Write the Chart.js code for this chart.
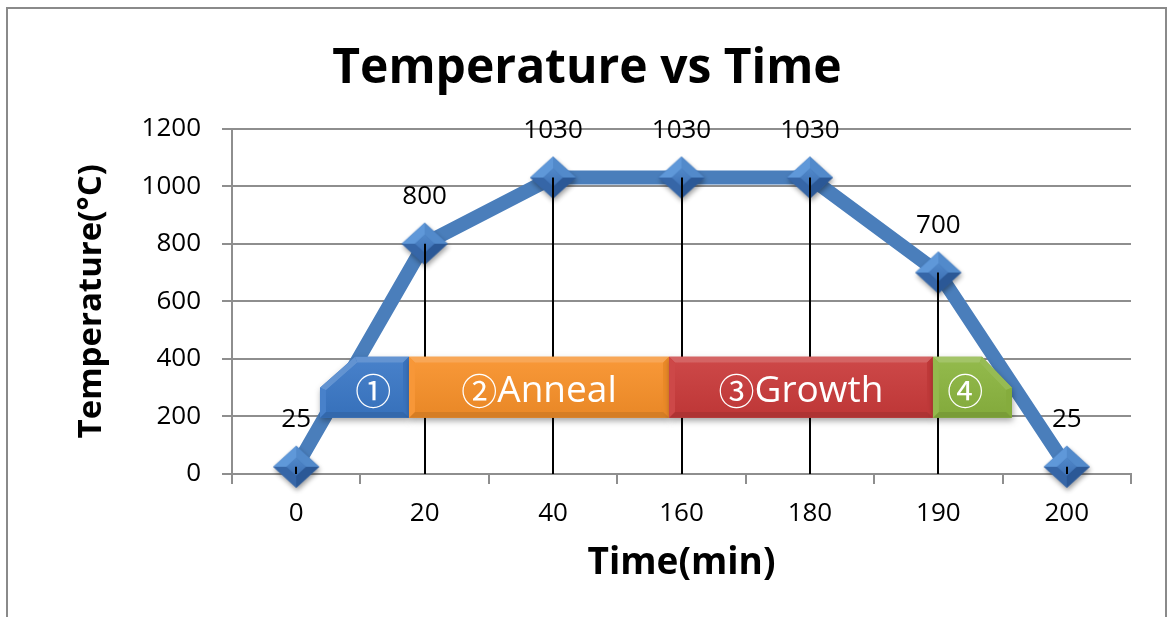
<!DOCTYPE html>
<html>
<head>
<meta charset="utf-8">
<script src="https://cdn.jsdelivr.net/npm/chart.js@4.4.1/dist/chart.umd.min.js"></script>
<style>
  html, body { margin: 0; padding: 0; background: #fff; }
  #wrap { position: relative; width: 1170px; height: 617px; overflow: hidden; }
  #c { position: absolute; left: 0; top: 0; }
  #frame { position: absolute; left: 6px; top: 7px; width: 1161px; height: 700px;
           border: 2px solid #8a8a8a; box-sizing: border-box; pointer-events: none; }
</style>
</head>
<body>
<div id="wrap">
  <canvas id="c" width="1170" height="617"></canvas>
  <div id="frame"></div>
</div>
<script>
// Process schedule: time points (min) and furnace temperature (°C)
const timeLabels = ['0', '20', '40', '160', '180', '190', '200'];
const temperatures = [25, 800, 1030, 1030, 1030, 700, 25];
const phaseMarks = ['①', '②', '③', '④'];
const phaseNames = ['', 'Anneal', 'Growth', ''];

// Geometry of the phase banners in scale units (category index / °C)
const phaseLayout = [
  { x0: 0.185, x1: 0.878, cut: 'topLeft',  cutX: 0.458, cutY: 300, base: '#3b78c6', textX: 0.60 },
  { x0: 0.878, x1: 2.903, cut: null,       base: '#f6902a' },
  { x0: 2.903, x1: 4.958, cut: null,       base: '#c93b3b' },
  { x0: 4.958, x1: 5.573, cut: 'topRight', cutX: 5.34, cutY: 300, base: '#8bb440', textX: 5.21 }
];
const phaseLow = 195, phaseHigh = 407;

const FONT = "'Open Sans', 'Noto Sans', sans-serif";
const MARK_FONT = "'Noto Sans CJK JP', 'Noto Sans CJK SC', sans-serif";

function hexToRgb(h) {
  const n = parseInt(h.slice(1), 16);
  return [(n >> 16) & 255, (n >> 8) & 255, n & 255];
}
function shade(hex, f) {
  const [r, g, b] = hexToRgb(hex);
  const mix = (c) => f >= 0 ? Math.round(c + (255 - c) * f) : Math.round(c * (1 + f));
  return `rgb(${mix(r)},${mix(g)},${mix(b)})`;
}

// Diamond marker with a bevelled look
function makeMarker() {
  const W = 62, H = 58;
  const c = document.createElement('canvas');
  c.width = W; c.height = H;
  const g = c.getContext('2d');
  const cx = W / 2, cy = H / 2, rx = 23, ry = 21, k = 0.42;
  const path = (sx, sy) => {
    g.beginPath();
    g.moveTo(cx - sx, cy); g.lineTo(cx, cy - sy); g.lineTo(cx + sx, cy); g.lineTo(cx, cy + sy);
    g.closePath();
  };
  g.save();
  g.shadowColor = 'rgba(0,0,0,0.38)';
  g.shadowBlur = 5; g.shadowOffsetX = 1; g.shadowOffsetY = 3;
  path(rx, ry); g.fillStyle = '#3a6db1'; g.fill();
  g.restore();
  const facet = (pts, col) => {
    g.beginPath(); g.moveTo(pts[0][0], pts[0][1]);
    for (let i = 1; i < pts.length; i++) g.lineTo(pts[i][0], pts[i][1]);
    g.closePath(); g.fillStyle = col; g.fill();
  };
  facet([[cx - rx, cy], [cx, cy - ry], [cx, cy - ry * k], [cx - rx * k, cy]], '#5f98d9');
  facet([[cx, cy - ry], [cx + rx, cy], [cx + rx * k, cy], [cx, cy - ry * k]], '#528acb');
  facet([[cx + rx, cy], [cx, cy + ry], [cx, cy + ry * k], [cx + rx * k, cy]], '#2b5896');
  facet([[cx, cy + ry], [cx - rx, cy], [cx - rx * k, cy], [cx, cy + ry * k]], '#3666a7');
  const gr = g.createLinearGradient(0, cy - ry * k, 0, cy + ry * k);
  gr.addColorStop(0, '#5088ca'); gr.addColorStop(1, '#3f72b6');
  path(rx * k, ry * k); g.fillStyle = gr; g.fill();
  return c;
}

// Inset a clockwise convex polygon by d pixels
function insetPolygon(pts, d) {
  const n = pts.length, lines = [];
  for (let i = 0; i < n; i++) {
    const a = pts[i], b = pts[(i + 1) % n];
    const dx = b.x - a.x, dy = b.y - a.y, len = Math.hypot(dx, dy);
    const nx = -dy / len, ny = dx / len;
    lines.push({ px: a.x + nx * d, py: a.y + ny * d, dx, dy, nx, ny });
  }
  const inner = [];
  for (let i = 0; i < n; i++) {
    const L1 = lines[(i - 1 + n) % n], L2 = lines[i];
    const den = L1.dx * L2.dy - L1.dy * L2.dx;
    const t = ((L2.px - L1.px) * L2.dy - (L2.py - L1.py) * L2.dx) / den;
    inner.push({ x: L1.px + L1.dx * t, y: L1.py + L1.dy * t });
  }
  return { inner, lines };
}

function drawBevelShape(ctx, pts, base) {
  const poly = (p) => {
    ctx.beginPath(); ctx.moveTo(p[0].x, p[0].y);
    for (let i = 1; i < p.length; i++) ctx.lineTo(p[i].x, p[i].y);
    ctx.closePath();
  };
  ctx.save();
  ctx.shadowColor = 'rgba(0,0,0,0.35)';
  ctx.shadowBlur = 6; ctx.shadowOffsetX = 1; ctx.shadowOffsetY = 3;
  poly(pts); ctx.fillStyle = base; ctx.fill();
  ctx.restore();

  const { inner, lines } = insetPolygon(pts, 6);
  const n = pts.length;
  const light = { x: -0.3, y: -0.95 };
  for (let i = 0; i < n; i++) {
    const L = lines[i];
    const dot = (-L.nx) * light.x + (-L.ny) * light.y;
    const col = dot >= 0 ? shade(base, dot * 0.22) : shade(base, dot * 0.14);
    poly([pts[i], pts[(i + 1) % n], inner[(i + 1) % n], inner[i]]);
    ctx.fillStyle = col; ctx.fill();
  }
  let top = Infinity, bot = -Infinity;
  inner.forEach(p => { top = Math.min(top, p.y); bot = Math.max(bot, p.y); });
  const gr = ctx.createLinearGradient(0, top, 0, bot);
  gr.addColorStop(0, shade(base, 0.06));
  gr.addColorStop(1, shade(base, -0.05));
  poly(inner); ctx.fillStyle = gr; ctx.fill();
}

const overlayPlugin = {
  id: 'overlay',
  afterDatasetsDraw(chart) {
    const { ctx, chartArea, scales: { x, y } } = chart;
    const meta = chart.getDatasetMeta(0);

    // Drop lines from each point to the time axis
    ctx.save();
    ctx.strokeStyle = '#000';
    ctx.lineWidth = 2;
    meta.data.forEach(pt => {
      const px = Math.round(pt.x);
      ctx.beginPath();
      ctx.moveTo(px, pt.y);
      ctx.lineTo(px, chartArea.bottom);
      ctx.stroke();
    });
    ctx.restore();

    // Phase banners
    const yLo = y.getPixelForValue(phaseLow), yHi = y.getPixelForValue(phaseHigh);
    phaseLayout.forEach((ph, i) => {
      const xa = x.getPixelForValue(ph.x0), xb = x.getPixelForValue(ph.x1);
      let pts;
      if (ph.cut === 'topLeft') {
        const cx = x.getPixelForValue(ph.cutX), cy = y.getPixelForValue(ph.cutY);
        pts = [{ x: xa, y: cy }, { x: cx, y: yHi }, { x: xb, y: yHi }, { x: xb, y: yLo }, { x: xa, y: yLo }];
      } else if (ph.cut === 'topRight') {
        const cx = x.getPixelForValue(ph.cutX), cy = y.getPixelForValue(ph.cutY);
        pts = [{ x: xa, y: yHi }, { x: cx, y: yHi }, { x: xb, y: cy }, { x: xb, y: yLo }, { x: xa, y: yLo }];
      } else {
        pts = [{ x: xa, y: yHi }, { x: xb, y: yHi }, { x: xb, y: yLo }, { x: xa, y: yLo }];
      }
      drawBevelShape(ctx, pts, ph.base);

      const tx = ph.textX !== undefined ? x.getPixelForValue(ph.textX) : (xa + xb) / 2;
      const ty = (yLo + yHi) / 2 + 4;
      const markFont = `36px ${MARK_FONT}`, nameFont = `37px ${FONT}`;
      ctx.save();
      ctx.fillStyle = '#ffffff';
      ctx.textBaseline = 'middle';
      ctx.textAlign = 'left';
      ctx.font = markFont;
      const w1 = ctx.measureText(phaseMarks[i]).width;
      ctx.font = nameFont;
      const w2 = ctx.measureText(phaseNames[i]).width;
      let sx = tx - (w1 + w2) / 2;
      ctx.font = markFont;
      ctx.fillText(phaseMarks[i], sx, ty);
      ctx.font = nameFont;
      ctx.fillText(phaseNames[i], sx + w1, ty);
      ctx.restore();
    });

    // Value labels above the points
    ctx.save();
    ctx.fillStyle = '#000';
    ctx.font = `26px ${FONT}`;
    ctx.textAlign = 'center';
    ctx.textBaseline = 'middle';
    meta.data.forEach((pt, i) => {
      ctx.fillText(String(temperatures[i]), pt.x, pt.y - 47);
    });
    ctx.restore();
  }
};

const gridGray = '#8e8e8e';

new Chart(document.getElementById('c'), {
  type: 'line',
  data: {
    labels: timeLabels,
    datasets: [{
      data: temperatures,
      borderColor: '#4a7ebb',
      borderWidth: 14,
      borderJoinStyle: 'round',
      tension: 0,
      pointStyle: makeMarker(),
      pointRadius: 20,
      pointHoverRadius: 20,
      clip: false
    }]
  },
  options: {
    responsive: false,
    animation: false,
    devicePixelRatio: 1,
    events: [],
    layout: { padding: { left: 43, right: 39, top: 0, bottom: 0 } },
    plugins: {
      legend: { display: false },
      tooltip: { enabled: false },
      title: {
        display: true,
        text: 'Temperature vs Time',
        color: '#000',
        font: { family: FONT, size: 48, weight: 'bold' },
        padding: { top: 41, bottom: 30 }
      }
    },
    scales: {
      x: {
        offset: true,
        grid: { display: true, offset: true, drawOnChartArea: false, drawTicks: true,
                tickLength: 10, color: gridGray, lineWidth: 2 },
        border: { display: true, color: gridGray, width: 2 },
        ticks: { color: '#000', font: { family: FONT, size: 26 }, padding: 14, maxRotation: 0 },
        title: { display: true, text: 'Time(min)', color: '#000',
                 font: { family: FONT, size: 37, weight: 'bold' },
                 padding: { top: 0, bottom: 31 } },
        afterFit(scale) { scale.height = 143; }
      },
      y: {
        min: 0, max: 1200,
        ticks: { stepSize: 200, color: '#000', font: { family: FONT, size: 26 }, padding: 21,
                 callback: (v) => String(v) },
        grid: { color: gridGray, lineWidth: 2, tickLength: 10, drawTicks: true },
        border: { display: true, color: gridGray, width: 2 },
        title: { display: true, text: 'Temperature(°C)', color: '#000',
                 font: { family: FONT, size: 33, weight: 'bold' },
                 padding: { top: 29, bottom: 0 } },
        afterFit(scale) { scale.width = 189; }
      }
    }
  },
  plugins: [overlayPlugin]
});
</script>
</body>
</html>
